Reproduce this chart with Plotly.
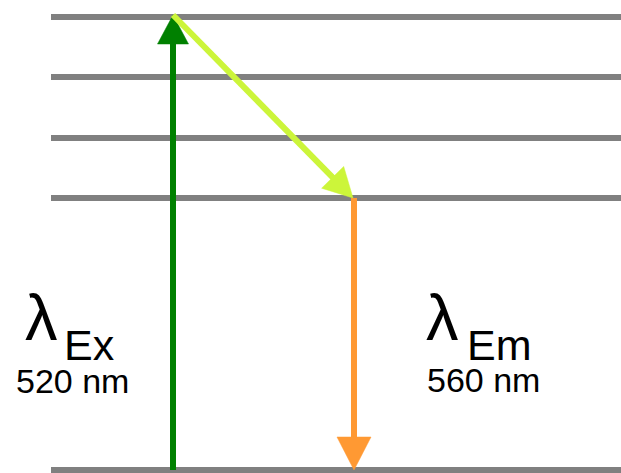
import plotly.graph_objects as go

# Energy levels (arbitrary units, ground state = 0)
level_energy = [0, 272, 332, 393, 453]
level_x_start = 51

# Transitions: (x_start, E_start, x_end, E_end)
excitation = (173, 0, 173, 455)
relaxation = (173, 455, 353, 272)
emission = (354, 272, 354, 0)

# Labels
ex_symbol, ex_sub, ex_wavelength = "λ", "Ex", "520 nm"
em_symbol, em_sub, em_wavelength = "λ", "Em", "560 nm"

GREEN = "#008000"
LIME = "#CCF53A"
ORANGE = "#FF9933"
GRAY = "#808080"
FONT = "Liberation Sans, Arial, sans-serif"
DESCENT = 0.212  # Liberation Sans descent, in em

W, H = 621, 473
fig = go.Figure()

# Horizontal energy levels
for e in level_energy:
    fig.add_trace(go.Scatter(
        x=[level_x_start, W + 20], y=[e, e], mode="lines",
        line=dict(color=GRAY, width=6), hoverinfo="skip"))


def add_arrow(x0, y0, x1, y1, color, width, head_len, head_half):
    dx, dy = x1 - x0, y1 - y0
    n = (dx * dx + dy * dy) ** 0.5
    ux, uy = dx / n, dy / n
    bx, by = x1 - ux * head_len, y1 - uy * head_len
    px, py = -uy, ux
    fig.add_trace(go.Scatter(
        x=[x0, bx + ux], y=[y0, by + uy], mode="lines",
        line=dict(color=color, width=width), hoverinfo="skip"))
    fig.add_trace(go.Scatter(
        x=[x1, bx + px * head_half, bx - px * head_half, x1],
        y=[y1, by + py * head_half, by - py * head_half, y1],
        mode="lines", fill="toself", fillcolor=color,
        line=dict(color=color, width=0.5), hoverinfo="skip"))


add_arrow(*excitation, GREEN, 6, 29, 15.5)
add_arrow(*relaxation, LIME, 6, 29, 15.5)
add_arrow(*emission, ORANGE, 6, 33, 17)


def add_text(text, x, baseline, size, xanchor="left"):
    # place a text line by its baseline
    fig.add_annotation(
        x=x, y=baseline - DESCENT * size, xref="x", yref="y",
        text=text, showarrow=False, xanchor=xanchor, yanchor="bottom",
        borderpad=0, borderwidth=0,
        font=dict(family=FONT, size=size, color="#000000"))


add_text(ex_symbol, 25, 130, 65)
add_text(ex_sub, 64, 110, 43)
add_text(ex_wavelength, 72, 77, 34, xanchor="center")
add_text(em_symbol, 426, 130, 65)
add_text(em_sub, 467, 110, 43)
add_text(em_wavelength, 483, 78, 34, xanchor="center")

fig.update_layout(
    width=W, height=H,
    margin=dict(l=0, r=0, t=0, b=0),
    paper_bgcolor="white", plot_bgcolor="white",
    showlegend=False,
    xaxis=dict(range=[0, W], visible=False, fixedrange=True),
    yaxis=dict(range=[470 - H, 470], visible=False, fixedrange=True),
)

fig.write_html("out.html")
